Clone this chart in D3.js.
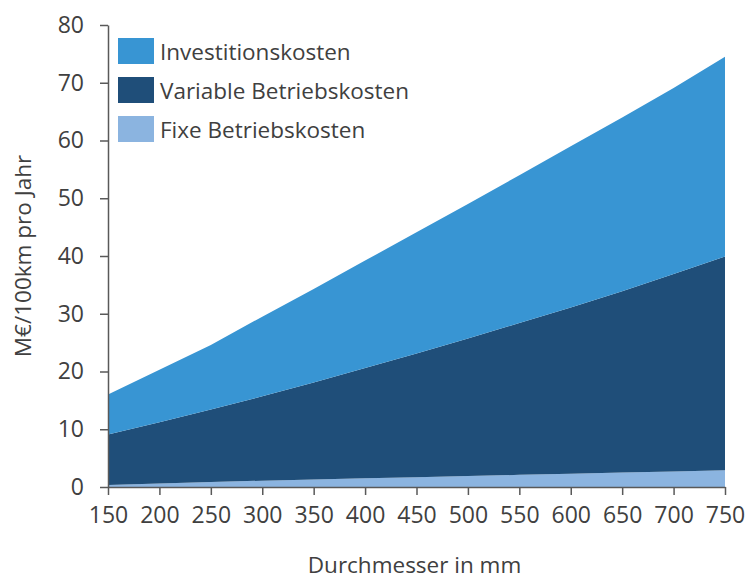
<!DOCTYPE html>
<html>
<head>
<meta charset="utf-8">
<script src="https://cdn.jsdelivr.net/npm/d3@7"></script>
<style>
body { margin: 0; background: #fff; }
svg text { font-family: "Open Sans", "Noto Sans", sans-serif; fill: #404040; }
</style>
</head>
<body>
<svg id="chart" width="746" height="580"></svg>
<script>
const diameters = [150, 200, 250, 300, 350, 400, 450, 500, 550, 600, 650, 700, 750];
const fixeBetriebskosten = [0.35, 0.6, 0.85, 1.1, 1.3, 1.5, 1.7, 1.9, 2.1, 2.3, 2.5, 2.7, 2.9];
const variableBetriebskosten = [8.75, 10.6, 12.55, 14.6, 16.8, 19.1, 21.4, 23.8, 26.3, 28.8, 31.4, 34.2, 37.0];
const investitionskosten = [6.9, 9.1, 11.2, 13.8, 16.2, 18.6, 21.0, 23.3, 25.6, 27.9, 30.1, 32.2, 34.6];
const yTicks = [0, 10, 20, 30, 40, 50, 60, 70, 80];
const seriesNames = ["Fixe Betriebskosten", "Variable Betriebskosten", "Investitionskosten"];
const seriesColors = ["#8bb4e0", "#1f4e79", "#3895d3"];
const legendOrder = ["Investitionskosten", "Variable Betriebskosten", "Fixe Betriebskosten"];

const rows = diameters.map((d, i) => ({
  d,
  "Fixe Betriebskosten": fixeBetriebskosten[i],
  "Variable Betriebskosten": variableBetriebskosten[i],
  "Investitionskosten": investitionskosten[i]
}));

const svg = d3.select("#chart");
const m = { left: 108, right: 21, top: 25, bottom: 93 };
const W = 746, H = 580;
const x = d3.scaleLinear().domain([150, 750]).range([m.left, W - m.right]);
const y = d3.scaleLinear().domain([0, 80]).range([H - m.bottom, m.top]);

const stack = d3.stack().keys(seriesNames);
const layers = stack(rows);
const color = d3.scaleOrdinal().domain(seriesNames).range(seriesColors);

const area = d3.area()
  .x(d => x(d.data.d))
  .y0(d => y(d[0]))
  .y1(d => y(d[1]));

svg.append("g").selectAll("path").data(layers).join("path")
  .attr("d", area)
  .attr("fill", d => color(d.key));

// axes
const axisColor = "#595959";
const yAxis = svg.append("g").attr("transform", `translate(${m.left},0)`)
  .call(d3.axisLeft(y).tickValues(yTicks).tickSize(8).tickSizeOuter(0).tickPadding(16));
const xAxis = svg.append("g").attr("transform", `translate(0,${H - m.bottom})`)
  .call(d3.axisBottom(x).tickValues(diameters).tickSize(8).tickSizeOuter(0).tickPadding(12));
[yAxis, xAxis].forEach(g => {
  g.selectAll("path, line").attr("stroke", axisColor).attr("stroke-width", 1.5);
  g.selectAll("text").style("font-size", "23px").attr("fill", "#404040");
});

// axis titles
svg.append("text")
  .attr("transform", `translate(25,${(m.top + H - m.bottom) / 2}) rotate(-90)`)
  .attr("text-anchor", "middle").attr("dominant-baseline", "middle")
  .style("font-size", "22.5px")
  .text("M€/100km pro Jahr");
svg.append("text")
  .attr("x", (m.left + W - m.right) / 2 - 2).attr("y", 573)
  .attr("text-anchor", "middle")
  .style("font-size", "22.5px")
  .text("Durchmesser in mm");

// legend
const lg = svg.append("g").attr("transform", "translate(118,38)");
legendOrder.forEach((name, i) => {
  const g = lg.append("g").attr("transform", `translate(0,${i * 39})`);
  g.append("rect").attr("width", 36).attr("height", 26).attr("fill", color(name));
  g.append("text").attr("x", 42).attr("y", 13).attr("dominant-baseline", "central")
    .style("font-size", "22.5px").text(name);
});
</script>
</body>
</html>
